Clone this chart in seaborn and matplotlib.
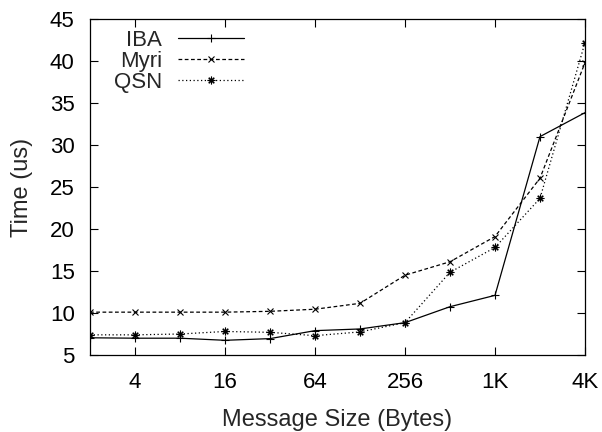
import matplotlib
matplotlib.use("Agg")
import matplotlib.pyplot as plt
import matplotlib.ticker as mticker
import seaborn as sns
import pandas as pd

sizes = [2, 4, 8, 16, 32, 64, 128, 256, 512, 1024, 2048, 4096]
iba = [7.05, 7.0, 7.0, 6.75, 6.95, 7.9, 8.1, 8.85, 10.75, 12.1, 31.0, 33.85]
myri = [10.1, 10.1, 10.1, 10.1, 10.2, 10.45, 11.15, 14.5, 16.1, 19.1, 26.05, 39.8]
qsn = [7.4, 7.4, 7.5, 7.8, 7.7, 7.3, 7.75, 8.85, 14.85, 17.8, 23.65, 42.2]
series_names = ["IBA", "Myri", "QSN"]
xtick_vals = [4, 16, 64, 256, 1024, 4096]
xtick_labels = ["4", "16", "64", "256", "1K", "4K"]

sns.set_theme(style="ticks")
plt.rcParams["font.family"] = ["Liberation Sans", "DejaVu Sans"]
plt.rcParams["font.size"] = 16

fig = plt.figure(figsize=(6.02, 4.32), dpi=100)
ax = fig.add_axes([90 / 602, 1 - 355 / 432, 495 / 602, 336 / 432])

styles = {
    "IBA": dict(ls="-", marker="+", ms=6),
    "Myri": dict(ls=(0, (3, 2)), marker="x", ms=5),
    "QSN": dict(ls=(0, (1, 2)), marker=(8, 2, 0), ms=5.5),
}
for name, vals in zip(series_names, [iba, myri, qsn]):
    df = pd.DataFrame({"size": sizes, "time": vals})
    st = styles[name]
    sns.lineplot(data=df, x="size", y="time", ax=ax, color="black",
                 linewidth=0.9, linestyle=st["ls"], marker=st["marker"],
                 markersize=st["ms"], markeredgewidth=0.8, markeredgecolor="black",
                 label=name)

ax.set_xscale("log", base=2)
ax.set_xlim(2, 4096)
ax.set_ylim(5, 45)
ax.xaxis.set_major_locator(mticker.FixedLocator(xtick_vals))
ax.xaxis.set_major_formatter(mticker.FixedFormatter(xtick_labels))
ax.xaxis.set_minor_locator(mticker.NullLocator())
ax.yaxis.set_major_locator(mticker.MultipleLocator(5))
ax.tick_params(axis="both", which="major", direction="in", length=6, width=0.8,
               top=True, right=True, labelsize=16, colors="black")
ax.tick_params(axis="y", pad=11)
ax.tick_params(axis="x", pad=12)
for sp in ax.spines.values():
    sp.set_color("black")
    sp.set_linewidth(0.9)
ax.set_xlabel("Message Size (Bytes)", fontsize=17, labelpad=12)
ax.set_ylabel("Time (us)", fontsize=17, labelpad=12)

leg = ax.legend(loc="upper left", frameon=False, markerfirst=False,
                handlelength=3.0, fontsize=16, borderaxespad=0.1,
                labelspacing=0.0, handletextpad=0.7,
                bbox_to_anchor=(0.026, 1.0))

fig.savefig("out.png", dpi=100)
